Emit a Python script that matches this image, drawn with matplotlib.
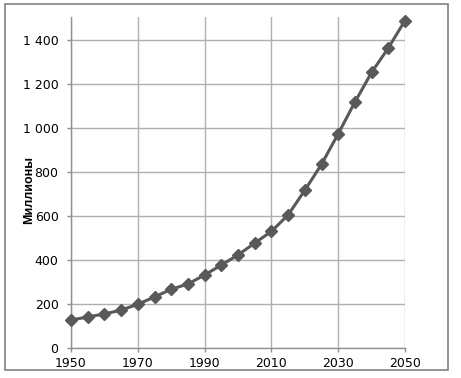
import matplotlib
matplotlib.use("Agg")
import matplotlib.pyplot as plt
from matplotlib.patches import Rectangle
from matplotlib.ticker import FuncFormatter

years = [1950, 1955, 1960, 1965, 1970, 1975, 1980, 1985, 1990, 1995, 2000,
         2005, 2010, 2015, 2020, 2025, 2030, 2035, 2040, 2045, 2050]
values = [127, 141, 155, 172, 199, 232, 267, 291, 332, 377, 423,
          477, 530, 605, 717, 835, 974, 1118, 1253, 1364, 1489]
xticks = [1950, 1970, 1990, 2010, 2030, 2050]
yticks = [0, 200, 400, 600, 800, 1000, 1200, 1400]
ylabel = "Миллионы"

W, H = 461, 378
fig = plt.figure(figsize=(W / 100, H / 100), dpi=100)
fig.patch.set_facecolor("white")
fig.patches.append(Rectangle((5 / W, 1 - 370 / H), 443 / W, 366 / H,
                             transform=fig.transFigure, fill=False,
                             edgecolor="#808080", linewidth=1.2))

ax = fig.add_axes([71 / W, 1 - 348 / H, 334 / W, 331 / H])
ax.plot(years, values, color="#595959", linewidth=2.2, marker="D",
        markersize=6.5, markerfacecolor="#595959", markeredgecolor="#595959",
        zorder=3, clip_on=False)
ax.set_xlim(1950, 2050)
ax.set_ylim(0, 1505)
ax.set_xticks(xticks)
ax.set_yticks(yticks)
ax.yaxis.set_major_formatter(FuncFormatter(lambda v, p: f"{int(v):,}".replace(",", " ")))
ax.grid(True, color="#b0b0b0", linewidth=1)
ax.set_axisbelow(True)
for s in ["top", "right"]:
    ax.spines[s].set_visible(False)
for s in ["left", "bottom"]:
    ax.spines[s].set_color("#909090")
    ax.spines[s].set_linewidth(1)
ax.tick_params(axis="both", colors="#909090", labelcolor="black",
               labelsize=9, length=3, width=1)
ax.tick_params(axis="y", pad=6)
fig.text(29 / W, 1 - 190 / H, ylabel, rotation=90, ha="center", va="center",
         fontsize=9, fontweight="bold", family=["Liberation Sans", "DejaVu Sans"])
fig.savefig("out.png", dpi=100, facecolor="white")
